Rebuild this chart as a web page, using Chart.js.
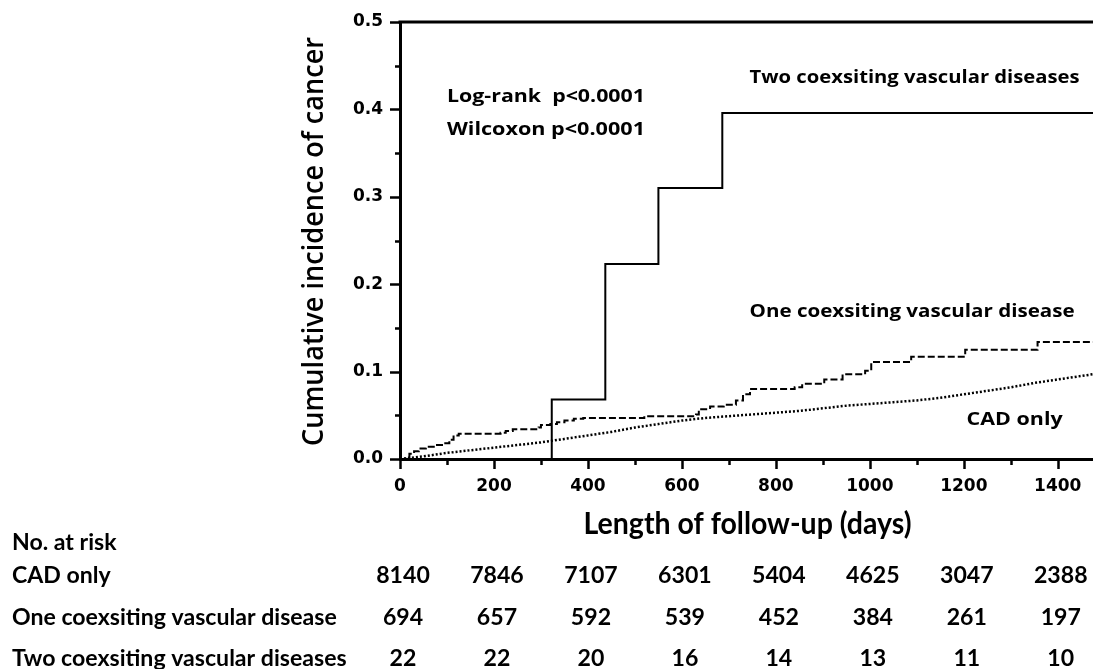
<!DOCTYPE html>
<html><head><meta charset="utf-8">
<script src="https://cdn.jsdelivr.net/npm/chart.js@4.4.1/dist/chart.umd.min.js"></script>
<style>html,body{margin:0;padding:0;background:#fff;overflow:hidden}#wrap{width:1093px;height:669px;position:relative}</style>
</head><body><div id="wrap"><canvas id="c" width="1093" height="669"></canvas></div>
<script>
// ---------- data ----------
const xTickValues = [0, 200, 400, 600, 800, 1000, 1200, 1400];
const twoDays = [0, 323, 437, 550, 686, 1475];
const twoInc  = [0, 0.068, 0.223, 0.310, 0.396, 0.396];
const oneDays = [0, 12, 20, 30, 40, 55, 75, 93, 105, 114, 125, 214, 225, 240, 295, 300, 320, 334, 350, 370, 390, 520, 630, 636, 660, 689, 715, 730, 745, 840, 856, 903, 942, 990, 1003, 1088, 1203, 1357, 1475];
const oneInc  = [0, 0.002, 0.006, 0.009, 0.012, 0.014, 0.016, 0.018, 0.022, 0.027, 0.029, 0.030, 0.032, 0.034, 0.036, 0.039, 0.040, 0.042, 0.044, 0.046, 0.047, 0.049, 0.051, 0.057, 0.060, 0.062, 0.067, 0.074, 0.080, 0.082, 0.086, 0.091, 0.097, 0.101, 0.111, 0.117, 0.125, 0.134, 0.134];
const cadDays = [0, 50, 100, 150, 200, 250, 300, 350, 400, 450, 500, 550, 600, 650, 700, 750, 800, 850, 900, 950, 1000, 1050, 1100, 1150, 1200, 1250, 1300, 1350, 1400, 1450, 1475];
const cadInc  = [0, 0.003, 0.007, 0.010, 0.013, 0.016, 0.019, 0.023, 0.027, 0.031, 0.036, 0.040, 0.044, 0.047, 0.049, 0.051, 0.053, 0.055, 0.058, 0.061, 0.063, 0.065, 0.067, 0.070, 0.074, 0.078, 0.082, 0.087, 0.091, 0.095, 0.097];
const riskHeader = 'No. at risk';
const riskGroups = ['CAD only', 'One coexsiting vascular disease', 'Two coexsiting vascular diseases'];
const riskCAD = [8140, 7846, 7107, 6301, 5404, 4625, 3047, 2388];
const riskOne = [694, 657, 592, 539, 452, 384, 261, 197];
const riskTwo = [22, 22, 20, 16, 14, 13, 11, 10];
const statTexts = ['Log-rank  p<0.0001', 'Wilcoxon p<0.0001'];
const curveLabels = ['Two coexsiting vascular diseases', 'One coexsiting vascular disease', 'CAD only'];
const xTitle = 'Length of follow-up (days)';
const yTitle = 'Cumulative incidence of cancer';

// ---------- fonts ----------
const mctx = document.createElement('canvas').getContext('2d');
function measure(text, font) { mctx.font = font; return mctx.measureText(text).width; }
function fitSize(text, weight, family, target) {
  return Math.round(1000 * target / measure(text, weight + ' 100px ' + family)) / 10;
}
const SANS = '"Open Sans", "DejaVu Sans", sans-serif';
const CAL = 'Lato, "Open Sans", sans-serif';
const TICK = '"DejaVu Sans", "Open Sans", sans-serif';
const annFont = 'bold 18.5px ' + SANS;
const tableSize = fitSize(riskGroups[1], 'bold', CAL, 325);
const xTitleFont = 'bold 30px ' + CAL;
const yTitleFont = '600 28px ' + SANS;

// annotation layout: anchor (day, incidence) and rendered width in px
const statPos = [[100, 0.414, 198], [100, 0.377, 198]];
const curveLabelPos = [[744, 0.436, 330], [744, 0.169, 325], [1206, 0.0445, 96]];

function pts(xs, ys) { return xs.map((d, i) => ({x: d, y: ys[i]})); }

function condensedText(ctx, text, x, y, font, width, align, rot) {
  const sx = width / measure(text, font);
  ctx.save();
  ctx.translate(x, y);
  if (rot) ctx.rotate(rot);
  ctx.scale(sx, 1);
  ctx.font = font;
  ctx.textAlign = align;
  ctx.textBaseline = 'middle';
  ctx.fillText(text, 0, 0);
  ctx.restore();
}

const decor = {
  id: 'decor',
  afterDraw(chart) {
    const {ctx, chartArea, scales: {x, y}} = chart;
    ctx.save();
    ctx.strokeStyle = '#000';
    ctx.fillStyle = '#000';
    // top frame line
    ctx.lineWidth = 3;
    ctx.beginPath();
    ctx.moveTo(chartArea.left - 1.5, chartArea.top);
    ctx.lineTo(chartArea.right, chartArea.top);
    ctx.stroke();
    // y ticks (major 0.1, minor 0.05)
    ctx.lineWidth = 2.5;
    for (let k = 0; k <= 10; k++) {
      const py = Math.round(y.getPixelForValue(k * 0.05)) + 0.5;
      const len = k % 2 === 0 ? 10 : 5;
      ctx.beginPath();
      ctx.moveTo(chartArea.left - len, py);
      ctx.lineTo(chartArea.left, py);
      ctx.stroke();
    }
    // x ticks (major 200, minor 100)
    for (let d = 0; d <= 1400; d += 100) {
      const px = Math.round(x.getPixelForValue(d)) + 0.5;
      const len = d % 200 === 0 ? 10 : 6;
      ctx.beginPath();
      ctx.moveTo(px, chartArea.bottom);
      ctx.lineTo(px, chartArea.bottom + len);
      ctx.stroke();
    }
    // axis titles
    condensedText(ctx, xTitle, (chartArea.left + chartArea.right) / 2 + 1, 524, xTitleFont, 328, 'center', 0);
    condensedText(ctx, yTitle, 315, (chartArea.top + chartArea.bottom) / 2 + 1, yTitleFont, 409, 'center', -Math.PI / 2);
    // annotations
    statTexts.forEach((t, i) => condensedText(ctx, t, x.getPixelForValue(statPos[i][0]), y.getPixelForValue(statPos[i][1]), annFont, statPos[i][2], 'left', 0));
    curveLabels.forEach((t, i) => condensedText(ctx, t, x.getPixelForValue(curveLabelPos[i][0]), y.getPixelForValue(curveLabelPos[i][1]), annFont, curveLabelPos[i][2], 'left', 0));
    // risk table
    ctx.font = 'bold ' + tableSize + 'px ' + CAL;
    ctx.textBaseline = 'middle';
    const rowY = [543, 576, 618, 659];
    ctx.textAlign = 'left';
    ctx.fillText(riskHeader, 12, rowY[0]);
    riskGroups.forEach((g, i) => ctx.fillText(g, 12, rowY[i + 1]));
    ctx.textAlign = 'center';
    [riskCAD, riskOne, riskTwo].forEach((row, r) => {
      row.forEach((v, i) => ctx.fillText(String(v), x.getPixelForValue(xTickValues[i]) + 3, rowY[r + 1]));
    });
    ctx.restore();
  }
};

new Chart(document.getElementById('c'), {
  type: 'line',
  data: {
    datasets: [
      {label: curveLabels[0], data: pts(twoDays, twoInc), borderColor: '#000', borderWidth: 2, stepped: 'before', pointRadius: 0, fill: false},
      {label: curveLabels[1], data: pts(oneDays, oneInc), borderColor: '#000', borderWidth: 2, borderDash: [7, 3], stepped: 'before', pointRadius: 0, fill: false},
      {label: curveLabels[2], data: pts(cadDays, cadInc), borderColor: '#000', borderWidth: 2.5, borderDash: [2, 2], pointRadius: 0, fill: false, tension: 0}
    ]
  },
  options: {
    responsive: false,
    devicePixelRatio: 1,
    animation: false,
    events: [],
    layout: {padding: {top: 22, left: 0, right: 0, bottom: 0}},
    plugins: {legend: {display: false}, tooltip: {enabled: false}},
    scales: {
      x: {
        type: 'linear', position: 'bottom', min: 0, max: 1475,
        afterFit: s => { s.height = 210; s.paddingLeft = 0; s.paddingRight = 0; },
        afterBuildTicks: s => { s.ticks = xTickValues.map(v => ({value: v})); },
        ticks: {autoSkip: false, maxRotation: 0, padding: 17, color: '#000', callback: v => String(v), font: {family: TICK, weight: 'bold', size: 17}},
        grid: {display: false, drawTicks: false},
        border: {display: true, width: 3, color: '#000'}
      },
      y: {
        min: 0, max: 0.5,
        afterFit: s => { s.width = 400; s.paddingTop = 0; s.paddingBottom = 0; },
        ticks: {stepSize: 0.1, padding: 17, color: '#000', callback: v => v.toFixed(1), font: {family: TICK, weight: 'bold', size: 17}},
        grid: {display: false, drawTicks: false},
        border: {display: true, width: 3, color: '#000'}
      }
    }
  },
  plugins: [decor]
});
</script>
</body></html>
